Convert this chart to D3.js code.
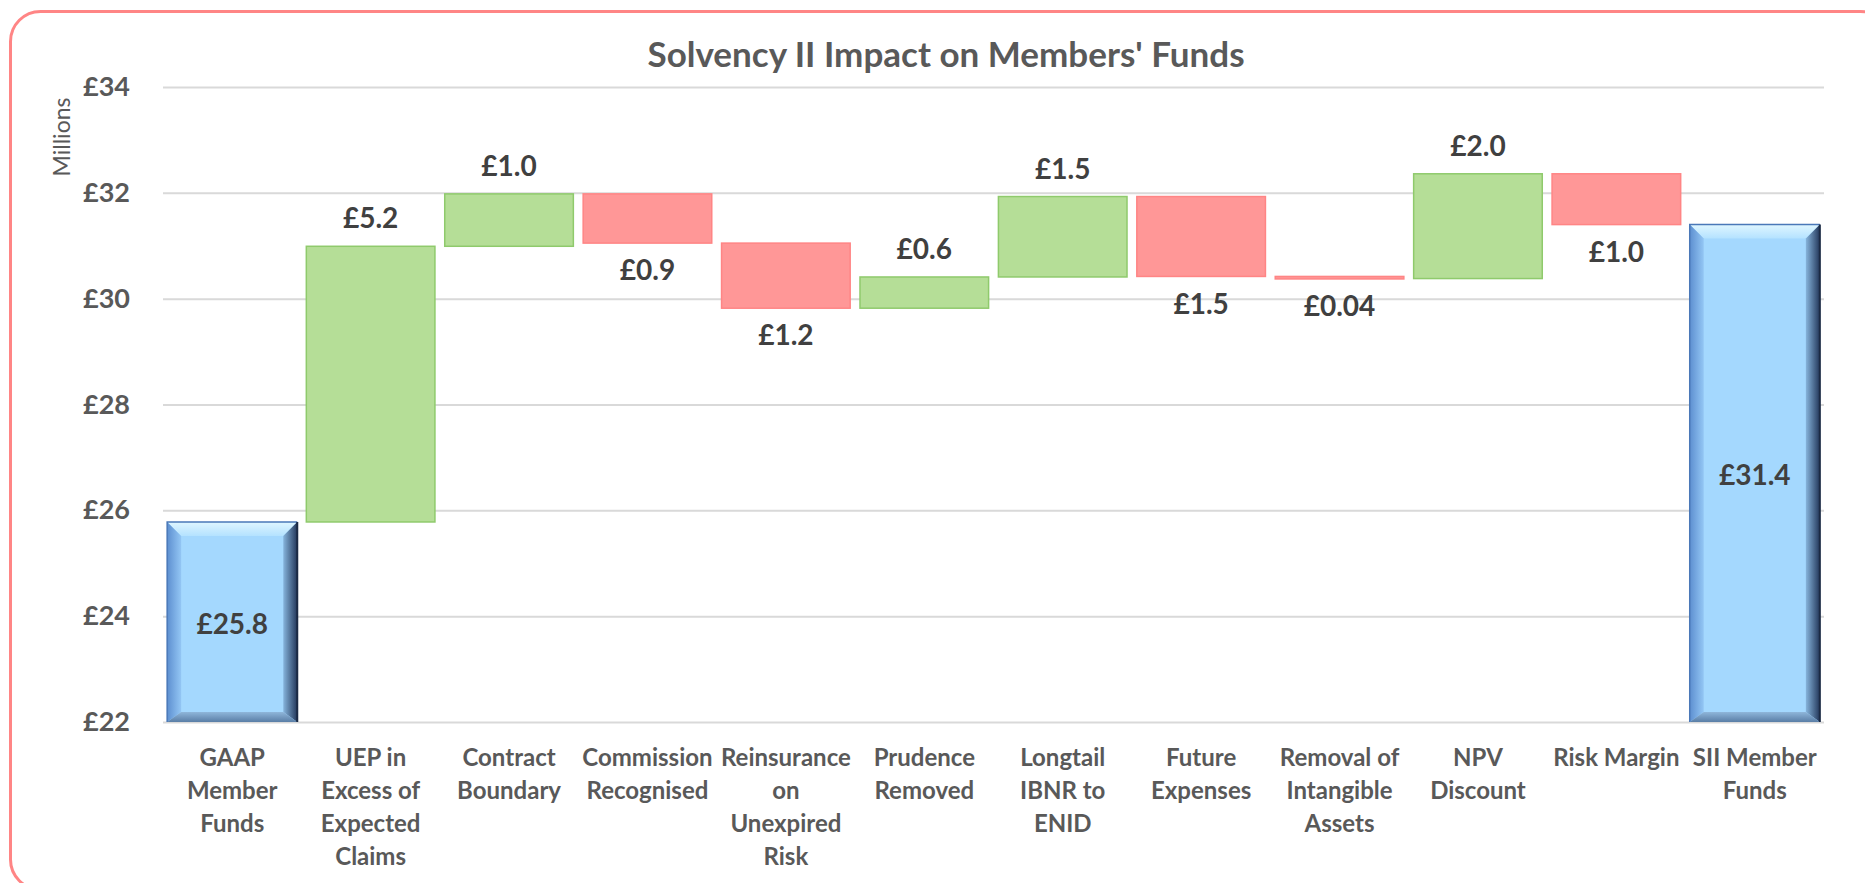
<!DOCTYPE html>
<html><head><meta charset="utf-8">
<script src="https://cdn.jsdelivr.net/npm/d3@7"></script>
<style>
html,body{margin:0;padding:0;background:#fff;}
svg{display:block;font-family:Lato,'Open Sans',sans-serif;}
</style>
</head><body>
<svg id="chart" width="1865" height="883"></svg>
<script>
// ---- data ----
const categories = [
  "GAAP\nMember\nFunds",
  "UEP in\nExcess of\nExpected\nClaims",
  "Contract\nBoundary",
  "Commission\nRecognised",
  "Reinsurance\non\nUnexpired\nRisk",
  "Prudence\nRemoved",
  "Longtail\nIBNR to\nENID",
  "Future\nExpenses",
  "Removal of\nIntangible\nAssets",
  "NPV\nDiscount",
  "Risk Margin",
  "SII Member\nFunds"
];
const startValue = 25.78;           // GAAP Member Funds (£m)
const changes = [5.21, 0.99, -0.93, -1.23, 0.59, 1.52, -1.51, -0.04, 1.98, -0.96]; // steps (£m)
const yTicks = [22, 24, 26, 28, 30, 32, 34];
const yDomain = [22, 34];
const title = "Solvency II Impact on Members' Funds";
const yTitle = "Millions";

// ---- build waterfall ----
const bars = [];
let run = startValue;
bars.push({cat: categories[0], kind: "total", lo: yDomain[0], hi: run, value: run});
changes.forEach((c, i) => {
  const prev = run; run = prev + c;
  bars.push({cat: categories[i + 1], kind: c >= 0 ? "up" : "down", lo: Math.min(prev, run), hi: Math.max(prev, run), value: c});
});
bars.push({cat: categories[categories.length - 1], kind: "total", lo: yDomain[0], hi: run, value: run});

const fmt = v => "£" + (Math.abs(v) < 0.1 ? Math.abs(v).toFixed(2) : Math.abs(v).toFixed(1));

// ---- layout ----
const svg = d3.select("#chart");
const m = {left: 163, right: 1824, top: 87, bottom: 722};
const x = d3.scaleBand().domain(categories).range([m.left, m.right]).paddingInner(0.06).paddingOuter(0.03);
const y = d3.scaleLinear().domain(yDomain).range([m.bottom, m.top]);

// border
svg.append("rect").attr("x", 10.5).attr("y", 11.5).attr("width", 1880).attr("height", 878)
  .attr("rx", 30).attr("fill", "#fff").attr("stroke", "#ff8585").attr("stroke-width", 3);

// title
svg.append("text").attr("x", 946).attr("y", 67).attr("text-anchor", "middle")
  .attr("font-size", 35).attr("font-weight", 700).attr("fill", "#595959").text(title);

// gridlines
const grid = svg.append("g").attr("transform", `translate(${m.left},0)`)
  .call(d3.axisLeft(y).tickValues(yTicks).tickSize(-(m.right - m.left)).tickFormat(""));
grid.select(".domain").remove();
grid.selectAll("line").attr("stroke", "#d9d9d9").attr("stroke-width", 2);

// y axis labels
const yAxis = svg.append("g").attr("transform", `translate(${m.left},0)`)
  .call(d3.axisLeft(y).tickValues(yTicks).tickSize(0).tickPadding(33).tickFormat(d => "£" + d));
yAxis.select(".domain").remove();
yAxis.selectAll("text").attr("font-size", 27).attr("font-weight", 700).attr("fill", "#595959")
  .attr("font-family", "Lato,'Open Sans',sans-serif");

// y title
svg.append("text").attr("transform", "translate(70,137) rotate(-90)").attr("text-anchor", "middle")
  .attr("font-size", 23).attr("fill", "#595959").text(yTitle);

// defs for bevel
const defs = svg.append("defs");
const gTop = defs.append("linearGradient").attr("id", "bvTop").attr("x1", 0).attr("y1", 0).attr("x2", 0).attr("y2", 1);
gTop.append("stop").attr("offset", 0).attr("stop-color", "#dff6ff");
gTop.append("stop").attr("offset", 1).attr("stop-color", "#b4e2ff");
const gRight = defs.append("linearGradient").attr("id", "bvRight").attr("x1", 0).attr("y1", 0).attr("x2", 1).attr("y2", 0);
gRight.append("stop").attr("offset", 0).attr("stop-color", "#86b4dc");
gRight.append("stop").attr("offset", 1).attr("stop-color", "#23375a");
const gLeft = defs.append("linearGradient").attr("id", "bvLeft").attr("x1", 0).attr("y1", 0).attr("x2", 1).attr("y2", 0);
gLeft.append("stop").attr("offset", 0).attr("stop-color", "#5d8fd0");
gLeft.append("stop").attr("offset", 1).attr("stop-color", "#93c6f4");
const gBot = defs.append("linearGradient").attr("id", "bvBot").attr("x1", 0).attr("y1", 0).attr("x2", 0).attr("y2", 1);
gBot.append("stop").attr("offset", 0).attr("stop-color", "#8fb6da");
gBot.append("stop").attr("offset", 1).attr("stop-color", "#5a7ea6");

// bars
const bw = x.bandwidth();
const gBars = svg.append("g");
bars.forEach(b => {
  const x0 = x(b.cat), x1 = x0 + bw, y0 = y(b.hi), y1 = y(b.lo);
  if (b.kind === "total") {
    const g = gBars.append("g");
    const bv = 14, bb = 10;
    g.append("rect").attr("x", x0).attr("y", y0).attr("width", bw).attr("height", y1 - y0).attr("fill", "#a4d8fe");
    g.append("polygon").attr("points", [[x0, y0], [x1, y0], [x1 - bv, y0 + bv], [x0 + bv, y0 + bv]].join(" ")).attr("fill", "url(#bvTop)");
    g.append("polygon").attr("points", [[x0, y0], [x0 + bv, y0 + bv], [x0 + bv, y1 - bb], [x0, y1]].join(" ")).attr("fill", "url(#bvLeft)");
    g.append("polygon").attr("points", [[x1, y0], [x1, y1], [x1 - bv, y1 - bb], [x1 - bv, y0 + bv]].join(" ")).attr("fill", "url(#bvRight)");
    g.append("polygon").attr("points", [[x0, y1], [x0 + bv, y1 - bb], [x1 - bv, y1 - bb], [x1, y1]].join(" ")).attr("fill", "url(#bvBot)");
    g.append("path").attr("d", `M${x0},${y1}V${y0}H${x1}`).attr("fill", "none").attr("stroke", "#4a78b8").attr("stroke-width", 1.5);
    g.append("path").attr("d", `M${x1},${y0}V${y1}`).attr("fill", "none").attr("stroke", "#1b2a44").attr("stroke-width", 2);
  } else {
    const up = b.kind === "up";
    gBars.append("rect").attr("x", x0 + 0.75).attr("y", y0).attr("width", bw - 1.5).attr("height", Math.max(y1 - y0, 2.5))
      .attr("fill", up ? "#b5de97" : "#ff9797").attr("stroke", up ? "#8fca6c" : "#ff8585").attr("stroke-width", 1.5);
  }
});

// data labels
const gLab = svg.append("g").attr("font-size", 28).attr("font-weight", 700).attr("fill", "#404040").attr("text-anchor", "middle");
bars.forEach(b => {
  const cx = x(b.cat) + bw / 2;
  let cy;
  if (b.kind === "total") cy = (y(b.hi) + y(b.lo)) / 2 + 2;
  else if (b.kind === "up") cy = y(b.hi) - 28;
  else cy = y(b.lo) + 27;
  gLab.append("text").attr("x", cx).attr("y", cy).attr("dy", "0.36em").text(fmt(b.value));
});

// x axis labels
const xAxis = svg.append("g").attr("transform", `translate(0,${m.bottom})`)
  .call(d3.axisBottom(x).tickSize(0).tickFormat(""));
xAxis.select(".domain").remove();
xAxis.selectAll(".tick").each(function(d) {
  const t = d3.select(this).append("text").attr("text-anchor", "middle").attr("font-size", 24)
    .attr("font-weight", 700).attr("fill", "#595959").attr("font-family", "Lato,'Open Sans',sans-serif");
  d.split("\n").forEach((line, i) => {
    t.append("tspan").attr("x", 0).attr("y", 44 + i * 33).text(line);
  });
});
</script>
</body></html>
